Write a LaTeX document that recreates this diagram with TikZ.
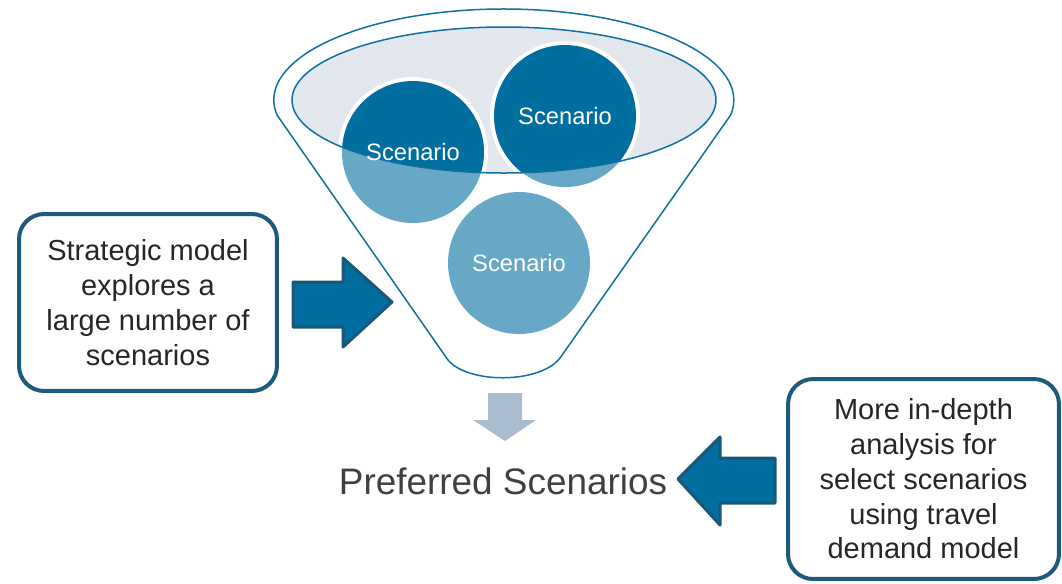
\documentclass[tikz,border=0pt]{standalone}
\usepackage{fontspec}
\setmainfont{Liberation Sans}
\usetikzlibrary{positioning}
\definecolor{scdark}{RGB}{0,111,160}
\definecolor{sclight}{RGB}{103,168,199}
\definecolor{ellfill}{RGB}{227,232,239}
\definecolor{funnelline}{RGB}{16,112,160}
\definecolor{boxline}{RGB}{30,90,125}
\definecolor{arrowline}{RGB}{24,86,122}
\definecolor{downfill}{RGB}{169,188,208}
\definecolor{boxtext}{RGB}{38,38,38}
\definecolor{preftext}{RGB}{64,64,64}

\begin{document}
\begin{tikzpicture}[x=0.02cm,y=-0.02cm,
  textbox/.style={draw=boxline,line width=0.08cm,rounded corners=0.5cm,align=center,text=boxtext,font=\fontsize{16.5}{19.8}\selectfont},
  scen/.style={circle,minimum size=2.84cm,text=white,font=\fontsize{13.5}{16}\selectfont},
  blockarrow/.style={fill=scdark,draw=arrowline,line width=0.06cm,line join=round}]
\useasboundingbox (0,0) rectangle (1062,583);
% funnel
\draw[funnelline,line width=0.03cm] (277,115) arc[start angle=170.5,end angle=369.5,x radius=230,y radius=91] -- (560,358) .. controls (540,384) and (468,384) .. (448,360) -- cycle;
\fill[ellfill] (504,100) ellipse[x radius=212,y radius=73];
\foreach \x/\y in {413/152,565/116,519/263}{\fill[sclight] (\x,\y) circle[radius=71];}
\begin{scope}
\clip (504,100) ellipse[x radius=212,y radius=73];
\foreach \x/\y in {413/152,565/116,519/263}{\fill[white] (\x,\y) circle[radius=75];\fill[scdark] (\x,\y) circle[radius=71];}
\end{scope}
\draw[funnelline,line width=0.03cm] (504,100) ellipse[x radius=212,y radius=73];
\node[scen] (scen1) at (413,152) {Scenario};
\node[scen] (scen2) at (565,116) {Scenario};
\node[scen] (scen3) at (519,263) {Scenario};
% boxes
\node[textbox,minimum width=5.16cm,minimum height=3.54cm] (explore) at (148,302.5) {Strategic model\\explores a\\large number of\\scenarios};
\node[textbox,minimum width=5.42cm,minimum height=4cm] (indepth) at (923.5,479) {More in-depth\\analysis for\\select scenarios\\using travel\\demand model};
\node[text=preftext,font=\fontsize{21}{25}\selectfont] (pref) at (503,481) {Preferred Scenarios};
% block arrows
\draw[blockarrow] (293,282) -- (343,282) -- (343,258) -- (392,302) -- (343,347) -- (343,327) -- (293,327) -- cycle;
\draw[blockarrow] (775,458) -- (720,458) -- (720,437) -- (678,479) -- (720,525) -- (720,503) -- (775,503) -- cycle;
\fill[downfill] (488,393) -- (522,393) -- (522,420) -- (536,420) -- (505,441) -- (473,420) -- (488,420) -- cycle;
\end{tikzpicture}
\end{document}
